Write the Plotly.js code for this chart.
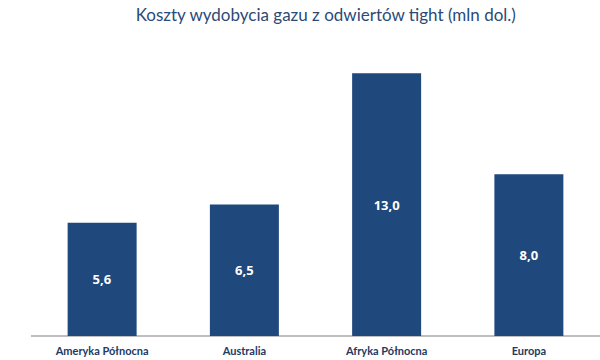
<!DOCTYPE html>
<html>
<head>
<meta charset="utf-8">
<script src="https://cdn.plot.ly/plotly-3.0.1.min.js"></script>
<style>html,body{margin:0;padding:0;background:#fff;}#chart{width:600px;height:360px;}</style>
</head>
<body>
<div id="chart"></div>
<script>
var categories = ["Ameryka Północna", "Australia", "Afryka Północna", "Europa"];
var values = [5.6, 6.5, 13.0, 8.0];
var titleText = "Koszty wydobycia gazu z odwiertów tight (mln dol.)";

var labels = values.map(function (v) { return v.toFixed(1).replace('.', ','); });

var trace = {
  type: 'bar',
  x: categories,
  y: values,
  text: labels,
  textposition: 'inside',
  insidetextanchor: 'middle',
  textangle: 0,
  textfont: {family: '"Open Sans", Lato, sans-serif', size: 13, color: '#ffffff', weight: 'bold'},
  marker: {color: '#1f487c'},
  hoverinfo: 'none'
};

var layout = {
  width: 600,
  height: 360,
  margin: {l: 31, r: 0, t: 53, b: 24},
  paper_bgcolor: '#ffffff',
  plot_bgcolor: '#ffffff',
  bargap: 0.515,
  showlegend: false,
  title: {
    text: titleText,
    x: 0.543,
    xanchor: 'center',
    y: 0.958,
    yanchor: 'middle',
    font: {family: 'Lato, "Open Sans", sans-serif', size: 17, color: '#2b4a78'}
  },
  xaxis: {
    type: 'category',
    showgrid: false,
    zeroline: false,
    showline: false,
    ticks: '',
    ticklabelstandoff: 7,
    tickfont: {family: 'Lato, "Open Sans", sans-serif', size: 11, color: '#233a63', weight: 'bold'}
  },
  yaxis: {
    range: [0, 14],
    showgrid: false,
    zeroline: true,
    zerolinecolor: '#bfbfbf',
    zerolinewidth: 2,
    showticklabels: false,
    showline: false,
    ticks: ''
  }
};

Plotly.newPlot('chart', [trace], layout, {staticPlot: true, displayModeBar: false});
</script>
</body>
</html>
